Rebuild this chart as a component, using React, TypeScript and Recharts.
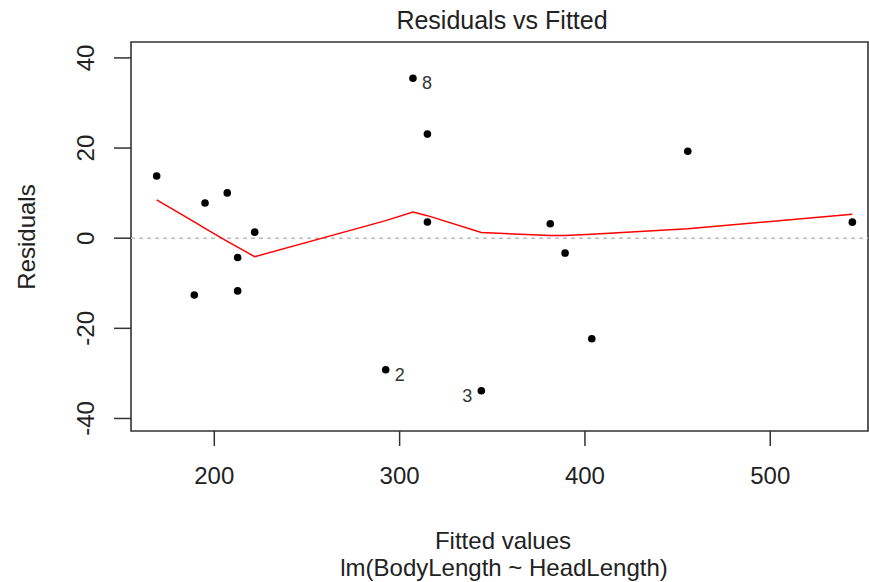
import React from 'react';
import {
  ScatterChart,
  Scatter,
  XAxis,
  YAxis,
  ReferenceLine,
  ReferenceArea,
} from 'recharts';

// fitted values (sorted), residuals, and the ids R prints next to outliers
const fittedValues = [168.9, 189.2, 195.0, 207.0, 212.6, 212.6, 221.8, 292.5, 307.2, 315.0, 315.0, 344.1, 381.3, 389.3, 403.7, 455.5, 544.3];
const residuals = [13.8, -12.6, 7.8, 10.05, -4.3, -11.7, 1.34, -29.2, 35.5, 23.1, 3.6, -33.85, 3.2, -3.3, -22.3, 19.3, 3.56];
const pointIds = ['', '', '', '', '', '', '', '2', '8', '', '', '3', '', '', '', '', ''];
// lowess smooth evaluated at the fitted values
const smoothValues = [8.5, 3.6, 2.2, -0.7, -2.0, -2.0, -4.1, 3.9, 5.8, 5.0, 5.0, 1.25, 0.6, 0.6, 0.9, 2.1, 5.3];
const labelsOnLeft = ['3'];

const xTicks = [200, 300, 400, 500];
const yTicks = [-40, -20, 0, 20, 40];
const X_DOMAIN: [number, number] = [155.05, 552.75];
const Y_DOMAIN: [number, number] = [-42.78, 43.53];

const points = fittedValues.map((x, i) => ({ x, y: residuals[i], id: pointIds[i] }));
const smooth = fittedValues.map((x, i) => ({ x, y: smoothValues[i] }));

const FONT = '"Liberation Sans", Arial, sans-serif';
const TEXT = '#222';
const W = 869;
const H = 582;

const XTick = ({ x, payload }: any) => (
  <text x={x} y={484} textAnchor="middle" fontSize={24} fontFamily={FONT} fill={TEXT}>
    {payload.value}
  </text>
);

const YTick = ({ y, payload }: any) => (
  <text
    x={94}
    y={y}
    transform={`rotate(-90 94 ${y})`}
    textAnchor="middle"
    fontSize={24}
    fontFamily={FONT}
    fill={TEXT}
  >
    {payload.value}
  </text>
);

const Dot = ({ cx, cy, payload }: any) => {
  const left = labelsOnLeft.includes(payload.id);
  return (
    <g>
      <circle cx={cx} cy={cy} r={3.8} fill="#000" />
      {payload.id && (
        <text
          x={left ? cx - 9 : cx + 9}
          y={cy + 11}
          textAnchor={left ? 'end' : 'start'}
          fontSize={18}
          fontFamily={FONT}
          fill="#333"
        >
          {payload.id}
        </text>
      )}
    </g>
  );
};

export default function App() {
  return (
    <div style={{ position: 'absolute', left: 0, top: 0, width: W, height: H, background: '#fff' }}>
      <ScatterChart width={W} height={H} margin={{ top: 42, right: 1, bottom: 0, left: 0 }}>
        <XAxis
          type="number"
          dataKey="x"
          domain={X_DOMAIN}
          ticks={xTicks}
          allowDataOverflow
          axisLine={false}
          tickLine={{ stroke: '#333', strokeWidth: 1.5 }}
          tickSize={15}
          height={151}
          tick={<XTick />}
        />
        <YAxis
          type="number"
          dataKey="y"
          domain={Y_DOMAIN}
          ticks={yTicks}
          allowDataOverflow
          axisLine={false}
          tickLine={{ stroke: '#333', strokeWidth: 1.5 }}
          tickSize={17}
          width={131}
          tick={<YTick />}
        />
        <ReferenceLine y={0} stroke="#bdbdbd" strokeWidth={1.5} strokeDasharray="4 4" />
        <Scatter
          data={smooth}
          line={{ stroke: '#ff0000', strokeWidth: 1.5 }}
          shape={() => <g />}
          isAnimationActive={false}
        />
        <Scatter data={points} shape={<Dot />} isAnimationActive={false} />
        <ReferenceArea
          x1={X_DOMAIN[0]}
          x2={X_DOMAIN[1]}
          y1={Y_DOMAIN[0]}
          y2={Y_DOMAIN[1]}
          fill="none"
          stroke="#333"
          strokeWidth={1.6}
        />
      </ScatterChart>
      <svg
        width={W}
        height={H}
        style={{ position: 'absolute', left: 0, top: 0, pointerEvents: 'none' }}
      >
        <text x={502} y={29} textAnchor="middle" fontSize={25} fontFamily={FONT} fill={TEXT}>
          Residuals vs Fitted
        </text>
        <text x={503} y={549} textAnchor="middle" fontSize={24} fontFamily={FONT} fill={TEXT}>
          Fitted values
        </text>
        <text x={504} y={576} textAnchor="middle" fontSize={24} fontFamily={FONT} fill={TEXT}>
          lm(BodyLength ~ HeadLength)
        </text>
        <text
          x={35}
          y={237}
          transform="rotate(-90 35 237)"
          textAnchor="middle"
          fontSize={24}
          fontFamily={FONT}
          fill={TEXT}
        >
          Residuals
        </text>
      </svg>
    </div>
  );
}
